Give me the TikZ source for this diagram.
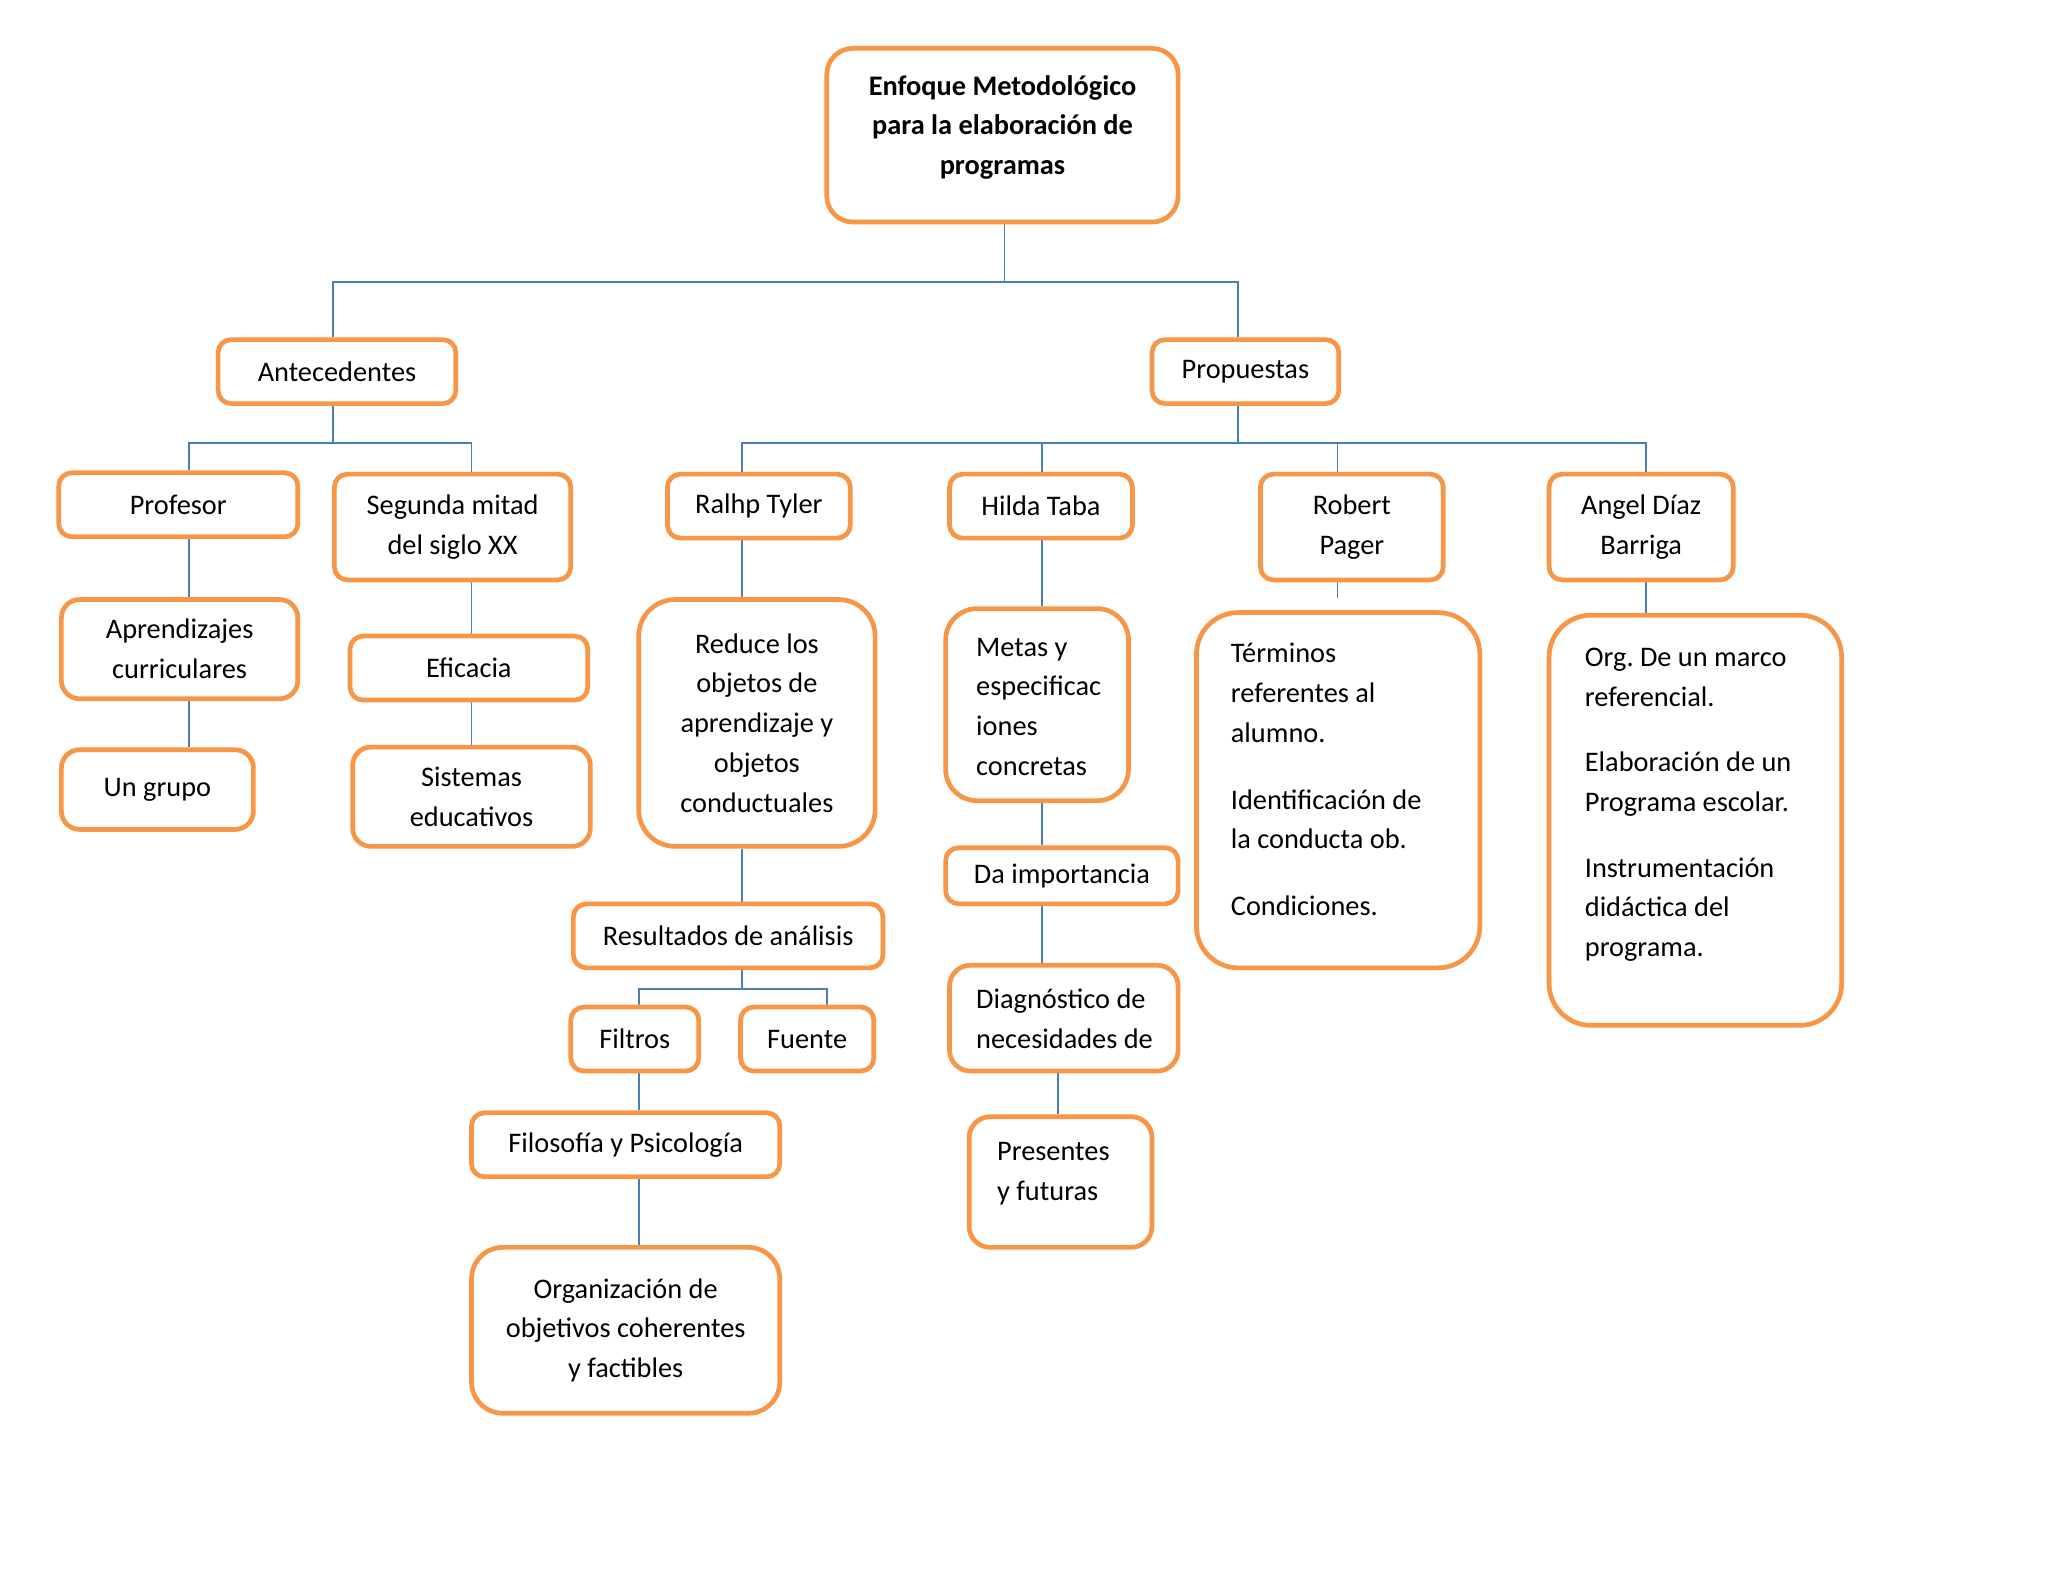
\documentclass[tikz,border=0pt]{standalone}
\usepackage{fontspec}
\setmainfont{Carlito}
\usetikzlibrary{backgrounds,calc}
\definecolor{boxorange}{HTML}{F79646}
\definecolor{linkblue}{HTML}{4A7EBB}
\newcommand\txf{\fontsize{10.85}{15.25}\selectfont\frenchspacing}
\begin{document}
\begin{tikzpicture}[x=0.5pt,y=-0.5pt,
  box/.style={draw=boxorange, line width=1.8pt, rounded corners=5pt, inner sep=0pt, fill=white, align=center, font=\txf},
  wh/.style 2 args={minimum width=#1pt, minimum height=#2pt},
  conn/.style={draw=linkblue, line width=0.7pt},
  txt/.style={inner sep=0pt, align=left, anchor=north west, font=\txf}]
\useasboundingbox (0,0) rectangle (1568,1211);
% boxes
\node[box, rounded corners=10pt, wh={134.5}{66.5}] (title) at (767.5,103.5) {};
\node[font=\txf\bfseries, align=center, inner sep=0pt] (titletxt) at (767.5,97.5) {Enfoque Metodológico\\para la elaboración de\\programas};
\node[box, wh={91}{24.5}] (ant) at (258,284.5) {Antecedentes};
\node[box, wh={71.5}{24.5}] (prop) at (953.5,284.5) {Propuestas};
\node[box, wh={91.5}{24.5}] (prof) at (136.5,386.5) {Profesor};
\node[box, wh={90.5}{40.5}] (seg) at (346.5,403.5) {Segunda mitad\\del siglo XX};
\node[box, rounded corners=7pt, wh={90.5}{38}] (apr) at (137.5,497) {Aprendizajes\\curriculares};
\node[box, rounded corners=7pt, wh={73.5}{30.5}] (grupo) at (120.5,604.5) {Un grupo};
\node[box, wh={91}{24.5}] (efi) at (359,511.5) {Eficacia};
\node[box, rounded corners=7pt, wh={91}{38}] (sis) at (361,610) {Sistemas\\educativos};
\node[box, wh={70}{24.5}] (ral) at (581,387.5) {Ralhp Tyler};
\node[box, wh={70}{24.5}] (hil) at (797,387.5) {Hilda Taba};
\node[box, wh={70}{40.5}] (rob) at (1035,403.5) {Robert\\Pager};
\node[box, wh={70.5}{40.5}] (ang) at (1256.5,403.5) {Angel Díaz\\Barriga};
\node[box, rounded corners=14pt, wh={90.5}{94.5}] (red) at (579.5,553.5) {Reduce los\\objetos de\\aprendizaje y\\objetos\\conductuales};
\node[box, rounded corners=12pt, wh={70}{73.5}] (met) at (794,539.5) {};
\node[txt] (mett) at (747,480.6) {\strut Metas y\\especificac\\iones\\concretas};
\node[box, rounded corners=16pt, wh={108.5}{136}] (ter) at (1024.5,605) {};
\node[txt] (tert) at (942,485.7) {\strut Términos\\referentes al\\alumno.\\[10.25pt]Identificación de\\la conducta ob.\\[10.25pt]Condiciones.};
\node[box, rounded corners=16pt, wh={112}{157}] (org) at (1298,628) {};
\node[txt] (orgt) at (1213,488.7) {\strut Org. De un marco\\referencial.\\[9.75pt]Elaboración de un\\Programa escolar.\\[9.75pt]Instrumentación\\didáctica del\\programa.};
\node[box, wh={89}{21.5}] (imp) at (813,670.5) {Da importancia};
\node[box, wh={118.5}{24.5}] (res) at (557.5,716.5) {Resultados de análisis};
\node[box, wh={49}{24.5}] (filt) at (486,795.5) {Filtros};
\node[box, wh={51}{24.5}] (fue) at (618,795.5) {Fuente};
\node[box, rounded corners=8pt, wh={87.5}{40.5}] (dia) at (814.5,779.5) {};
\node[txt] (diat) at (747,750.7) {\strut Diagnóstico de\\necesidades de};
\node[box, rounded corners=8pt, wh={70}{50}] (pre) at (812,905) {};
\node[txt] (pret) at (763,866.7) {\strut Presentes\\y futuras};
\node[box, wh={118}{24.5}] (filo) at (479,876.5) {Filosofía y Psicología};
\node[box, rounded corners=12pt, wh={118}{63.5}] (orgz) at (479,1018.5) {Organización de\\objetivos coherentes\\y factibles};
% junctions and columns
\coordinate (jTop) at (769,216);
\coordinate (jAnt) at (255,339);
\coordinate (jProp) at (948,339);
\coordinate (jRes) at (568,757);
\coordinate (xProf) at (145,0);
\coordinate (xSeg) at (361,0);
\coordinate (xRal) at (568,0);
\coordinate (xHil) at (798,0);
\coordinate (xRob) at (1024,0);
\coordinate (xAng) at (1260,0);
\coordinate (xFil) at (489,0);
\coordinate (xFue) at (633,0);
\coordinate (xDia) at (810,0);
\coordinate (robstub) at (1024,458);
\begin{scope}[on background layer]
\fill[white] (0,0) rectangle (1568,1211);
\draw[conn] (title.south -| jTop) -- (jTop);
\draw[conn] (ant.north -| jAnt) |- (jTop) -| (prop.north -| jProp);
\draw[conn] (ant.south -| jAnt) -- (jAnt);
\draw[conn] (prof.north -| xProf) |- (jAnt) -| (seg.north -| xSeg);
\draw[conn] (prof.south -| xProf) -- (apr.north -| xProf);
\draw[conn] (apr.south -| xProf) -- (grupo.north -| xProf);
\draw[conn] (seg.south -| xSeg) -- (efi.north -| xSeg);
\draw[conn] (efi.south -| xSeg) -- (sis.north -| xSeg);
\draw[conn] (prop.south -| jProp) -- (jProp);
\draw[conn] (ral.north -| xRal) |- (jProp) -| (ang.north -| xAng);
\draw[conn] (hil.north -| xHil) -- (xHil |- jProp);
\draw[conn] (rob.north -| xRob) -- (xRob |- jProp);
\draw[conn] (ral.south -| xRal) -- (red.north -| xRal);
\draw[conn] (hil.south -| xHil) -- (met.north -| xHil);
\draw[conn] (rob.south -| xRob) -- (robstub);
\draw[conn] (ang.south -| xAng) -- (org.north -| xAng);
\draw[conn] (red.south -| xRal) -- (res.north -| xRal);
\draw[conn] (met.south -| xHil) -- (imp.north -| xHil);
\draw[conn] (imp.south -| xHil) -- (dia.north -| xHil);
\draw[conn] (res.south -| xRal) -- (jRes);
\draw[conn] (filt.north -| xFil) |- (jRes) -| (fue.north -| xFue);
\draw[conn] (filt.south -| xFil) -- (filo.north -| xFil);
\draw[conn] (filo.south -| xFil) -- (orgz.north -| xFil);
\draw[conn] (dia.south -| xDia) -- (pre.north -| xDia);
\end{scope}
\end{tikzpicture}
\end{document}
